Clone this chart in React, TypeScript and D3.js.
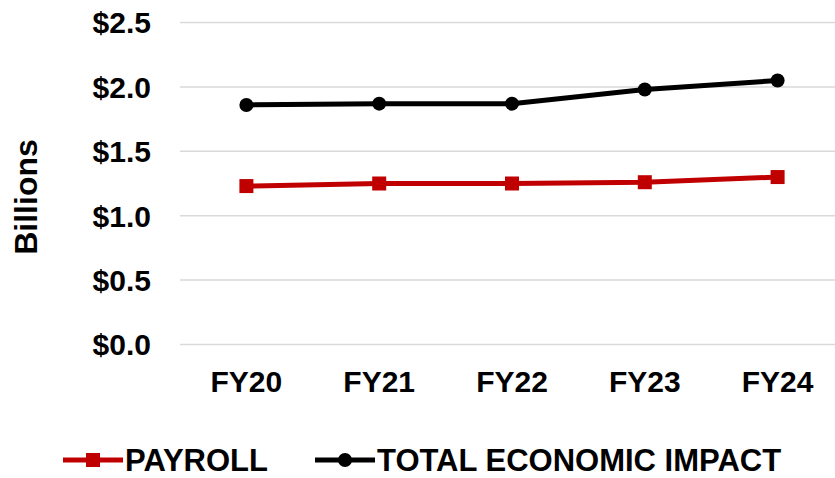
import React, { useRef, useEffect } from "react";
import * as d3 from "d3";

const categories = ["FY20", "FY21", "FY22", "FY23", "FY24"];
const payroll = [1.23, 1.25, 1.25, 1.26, 1.3];
const totalImpact = [1.86, 1.87, 1.87, 1.98, 2.05];
const yTicks = [0, 0.5, 1.0, 1.5, 2.0, 2.5];

const width = 835;
const height = 478;
const font = "'Liberation Sans', Arial, sans-serif";

const App: React.FC = () => {
    const svgRef = useRef<SVGSVGElement | null>(null);

    useEffect(() => {
        if (!svgRef.current) return;
        const svg = d3.select(svgRef.current);
        svg.selectAll("*").remove();

        // plot area runs a little past the right edge, as in the original
        const x = d3.scaleBand().domain(categories).range([180, 844]).padding(0);
        const y = d3.scaleLinear().domain([0, 2.5]).range([344.5, 22.5]);
        const cx = (c: string) => x(c)! + x.bandwidth() / 2;

        // gridlines
        svg.append("g")
            .selectAll("line")
            .data(yTicks)
            .enter()
            .append("line")
            .attr("x1", 180)
            .attr("x2", width)
            .attr("y1", (d) => y(d))
            .attr("y2", (d) => y(d))
            .attr("stroke", "#d9d9d9")
            .attr("stroke-width", 1.5);

        // y tick labels
        svg.append("g")
            .selectAll("text")
            .data(yTicks)
            .enter()
            .append("text")
            .attr("x", 151)
            .attr("y", (d) => y(d))
            .attr("dy", "0.36em")
            .attr("text-anchor", "end")
            .attr("font-family", font)
            .attr("font-weight", "bold")
            .attr("font-size", 30)
            .text((d) => `$${d.toFixed(1)}`);

        // x labels
        svg.append("g")
            .selectAll("text")
            .data(categories)
            .enter()
            .append("text")
            .attr("x", (d) => cx(d))
            .attr("y", 392)
            .attr("text-anchor", "middle")
            .attr("font-family", font)
            .attr("font-weight", "bold")
            .attr("font-size", 30)
            .text((d) => d);

        // y axis title
        svg.append("text")
            .attr("transform", "translate(37,197) rotate(-90)")
            .attr("text-anchor", "middle")
            .attr("font-family", font)
            .attr("font-weight", "bold")
            .attr("font-size", 32)
            .text("Billions");

        const line = d3
            .line<number>()
            .x((_, i) => cx(categories[i]))
            .y((d) => y(d));

        // total economic impact
        svg.append("path")
            .datum(totalImpact)
            .attr("d", line)
            .attr("fill", "none")
            .attr("stroke", "#000")
            .attr("stroke-width", 5);
        svg.append("g")
            .selectAll("circle")
            .data(totalImpact)
            .enter()
            .append("circle")
            .attr("cx", (_, i) => cx(categories[i]))
            .attr("cy", (d) => y(d))
            .attr("r", 7)
            .attr("fill", "#000");

        // payroll
        svg.append("path")
            .datum(payroll)
            .attr("d", line)
            .attr("fill", "none")
            .attr("stroke", "#c00000")
            .attr("stroke-width", 5);
        svg.append("g")
            .selectAll("rect")
            .data(payroll)
            .enter()
            .append("rect")
            .attr("x", (_, i) => cx(categories[i]) - 7)
            .attr("y", (d) => y(d) - 7)
            .attr("width", 14)
            .attr("height", 14)
            .attr("fill", "#c00000");

        // legend
        const legend = [
            { label: "PAYROLL", color: "#c00000", shape: "square", x: 63 },
            { label: "TOTAL ECONOMIC IMPACT", color: "#000", shape: "circle", x: 315 },
        ];
        const ly = 460;
        legend.forEach((l) => {
            const g = svg.append("g");
            g.append("line")
                .attr("x1", l.x)
                .attr("x2", l.x + 60)
                .attr("y1", ly)
                .attr("y2", ly)
                .attr("stroke", l.color)
                .attr("stroke-width", 5);
            if (l.shape === "square") {
                g.append("rect")
                    .attr("x", l.x + 23)
                    .attr("y", ly - 7)
                    .attr("width", 14)
                    .attr("height", 14)
                    .attr("fill", l.color);
            } else {
                g.append("circle")
                    .attr("cx", l.x + 30)
                    .attr("cy", ly)
                    .attr("r", 7)
                    .attr("fill", l.color);
            }
            g.append("text")
                .attr("x", l.x + 62)
                .attr("y", ly)
                .attr("dy", "0.36em")
                .attr("font-family", font)
                .attr("font-weight", "bold")
                .attr("font-size", 31)
                .text(l.label);
        });
    }, []);

    return (
        <svg
            ref={svgRef}
            width={width}
            height={height}
            style={{ position: "absolute", left: 0, top: 0, background: "#fff" }}
        ></svg>
    );
};

export default App;
